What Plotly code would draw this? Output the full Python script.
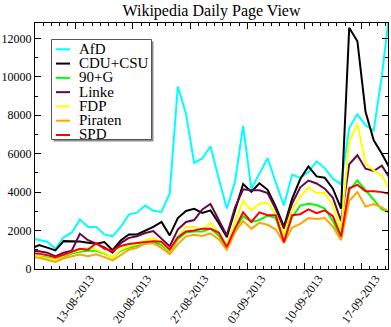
import plotly.graph_objects as go
import pandas as pd

# one value per day, 07-08-2013 .. 20-09-2013 (first and last are clipped by the axis range)
dates = pd.date_range("2013-08-07 12:00", periods=45, freq="D")

afd = [1600, 1500, 1420, 1060, 1650, 1890, 2570, 2190, 2180, 1800, 1700, 2190, 2830, 2930, 3300,
       3030, 2970, 3920, 9500, 8080, 5520, 5750, 6390, 4720, 3150, 4530, 7450, 4180, 5000, 5760,
       4500, 3300, 4900, 4750, 5050, 5600, 5250, 4700, 4400, 7350, 8050, 7480, 7200, 10050, 13600]
cdu = [1050, 1250, 1110, 970, 1450, 1450, 1430, 1370, 1320, 1400, 980, 1490, 1800, 1800, 2010,
       2190, 2450, 1750, 2650, 3020, 3130, 2920, 3050, 2400, 1660, 3100, 4420, 4020, 4460, 4120,
       3250, 2200, 3650, 4680, 5340, 4820, 4750, 4180, 3140, 12550, 11850, 8180, 6700, 6000, 5200]
gruene = [700, 650, 600, 480, 650, 800, 900, 950, 950, 800, 600, 950, 1100, 1200, 1300,
          1400, 1250, 900, 1550, 1900, 1950, 1950, 2100, 1750, 1150, 2050, 2750, 2450, 2550, 2780,
          2650, 1400, 2700, 3300, 3400, 3330, 3150, 2500, 1550, 4100, 4600, 4100, 3600, 3100, 2950]
linke = [950, 920, 850, 650, 850, 950, 1830, 1500, 1320, 1120, 850, 1350, 1620, 1700, 1870,
         1970, 1580, 1180, 2050, 2450, 2550, 3100, 3380, 2550, 1750, 3200, 4150, 4100, 4100, 3950,
         3100, 2100, 3400, 4250, 4600, 4450, 4180, 3700, 2500, 5450, 5920, 5220, 5100, 5380, 4700]
fdp = [720, 640, 550, 460, 700, 870, 970, 1100, 1010, 840, 600, 1000, 1180, 1350, 1490,
       1620, 1360, 940, 1650, 2200, 2170, 2060, 2400, 1880, 1250, 2450, 3550, 3050, 3400, 3450,
       2850, 1800, 3100, 3750, 4250, 3950, 3950, 3300, 2050, 6650, 7550, 5480, 5130, 4850, 4100]
piraten = [620, 580, 480, 370, 560, 650, 750, 660, 760, 620, 450, 720, 1000, 1100, 1330,
           1330, 1100, 780, 1300, 1700, 1780, 1720, 1850, 1550, 1000, 1900, 2500, 2100, 2400, 2300,
           2050, 1350, 2150, 2350, 2650, 2600, 2650, 2200, 1500, 3550, 4000, 3250, 3380, 3200, 2950]
spd = [820, 800, 720, 600, 740, 900, 1050, 1000, 1340, 1050, 950, 1200, 1300, 1350, 1400,
       1450, 1420, 1000, 1650, 1950, 2000, 2100, 2100, 1900, 1150, 2100, 2950, 2450, 2950, 2800,
       2800, 1400, 2800, 2850, 3100, 2900, 3050, 2750, 1700, 4200, 4380, 4050, 4050, 4000, 3900]

names = ["AfD", "CDU+CSU", "90+G", "Linke", "FDP", "Piraten", "SPD"]
values = [afd, cdu, gruene, linke, fdp, piraten, spd]
colors = ["#00ffff", "#000000", "#00ff00", "#670748", "#ffff00", "#ffa500", "#ff0000"]

W, H = 391, 327
L, R, T, B = 35, 3, 23, 58
PW, PH = W - L - R, H - T - B

def px(x):
    return (x - L) / PW

def py(y):
    return 1 - (y - T) / PH

serif = "Liberation Serif, Times New Roman, serif"

fig = go.Figure()
for name, vals, col in zip(names, values, colors):
    fig.add_trace(go.Scatter(x=dates, y=vals, mode="lines", name=name,
                             line=dict(color=col, width=2), showlegend=False))

# legend box drawn by hand (grace style, with a drop shadow)
shapes = [
    dict(type="rect", xref="paper", yref="paper", x0=px(53.5), x1=px(153.5), y0=py(141.5), y1=py(41.5),
         fillcolor="#8c8c8c", line=dict(width=0)),
    dict(type="rect", xref="paper", yref="paper", x0=px(51.5), x1=px(151.5), y0=py(139.5), y1=py(39.5),
         fillcolor="white", line=dict(color="#555555", width=1)),
]
annotations = []
for i, (name, col) in enumerate(zip(names, colors)):
    yy = 49.3 + i * 14.28
    shapes.append(dict(type="line", xref="paper", yref="paper", x0=px(56), x1=px(70), y0=py(yy), y1=py(yy),
                       line=dict(color=col, width=2)))
    annotations.append(dict(text=name, xref="paper", yref="paper", x=px(77), y=py(yy - 0.5),
                            xanchor="left", yanchor="middle", showarrow=False,
                            font=dict(family=serif, size=15, color="black")))

fig.update_layout(
    width=W, height=H, autosize=False,
    margin=dict(l=L, r=R, t=T, b=B),
    paper_bgcolor="white", plot_bgcolor="white",
    title=dict(text="Wikipedia Daily Page View", x=0.5, xref="paper", xanchor="center",
               y=1 - 10 / H, yref="container", yanchor="middle",
               font=dict(family=serif, size=16, color="black")),
    shapes=shapes, annotations=annotations,
    showlegend=False,
)

fig.update_xaxes(
    type="date", range=["2013-08-08", "2013-09-20 06:00"], automargin=False,
    tick0="2013-08-13", dtick=7 * 86400000, tickformat="%d-%m-%Y",
    ticks="inside", ticklen=6, tickcolor="black", tickangle=-54,
    ticklabelshift=14, ticklabelstandoff=-3,
    tickfont=dict(family=serif, size=12, color="black"),
    minor=dict(tick0="2013-08-08", dtick=86400000, ticks="inside", ticklen=3, tickcolor="black", showgrid=False),
    showline=True, linecolor="black", linewidth=1, mirror="ticks", showgrid=False, zeroline=False,
)
fig.update_yaxes(
    range=[0, 12800], tick0=0, dtick=2000, tickformat="d", automargin=False,
    ticks="inside", ticklen=6, tickcolor="black",
    tickfont=dict(family=serif, size=12, color="black"),
    minor=dict(dtick=1000, ticks="inside", ticklen=3, tickcolor="black", showgrid=False),
    showline=True, linecolor="black", linewidth=1, mirror="ticks", showgrid=False, zeroline=False,
)

# the page body has a default 8px margin; drop it so the figure sits at the window origin
fig.write_html("out.html", config={"displayModeBar": False},
               post_script="document.body.style.margin='0px';")
